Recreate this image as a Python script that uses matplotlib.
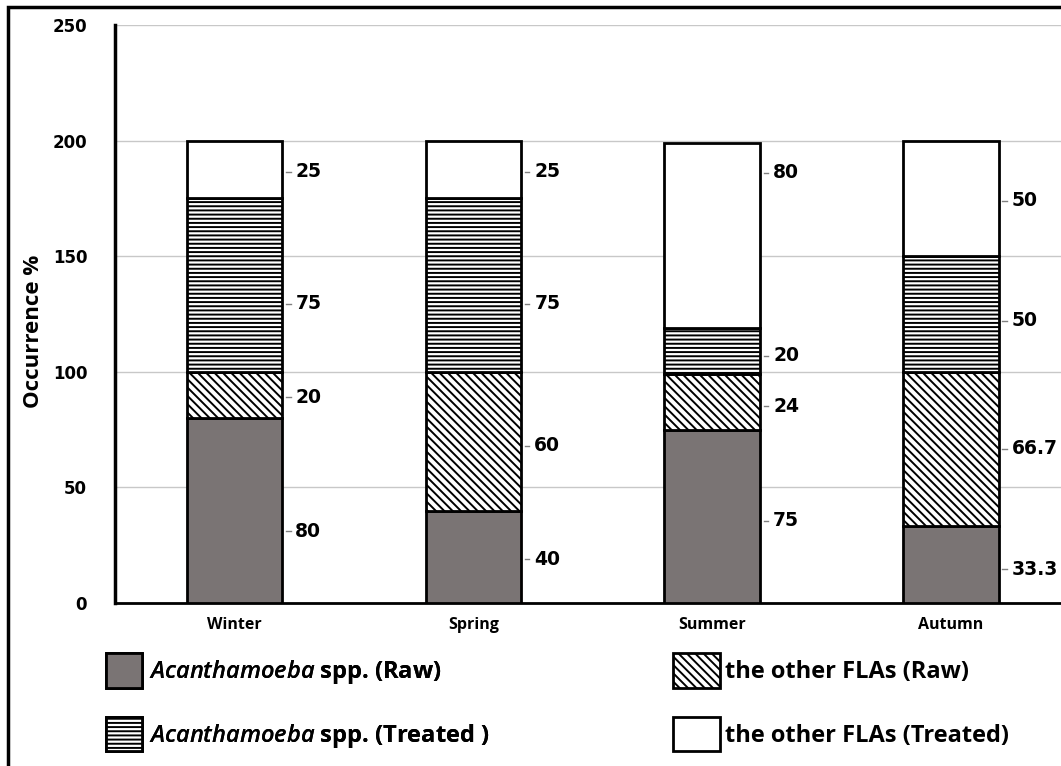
import numpy as np
import matplotlib
matplotlib.use('Agg')
import matplotlib.pyplot as plt
from matplotlib.patches import Rectangle

seasons = ['Winter', 'Spring', 'Summer', 'Autumn']
acan_raw = [80, 40, 75, 33.3]
other_raw = [20, 60, 24, 66.7]
acan_treated = [75, 75, 20, 50]
other_treated = [25, 25, 80, 50]
label_txt = [['80', '20', '75', '25'],
             ['40', '60', '75', '25'],
             ['75', '24', '20', '80'],
             ['33.3', '66.7', '50', '50']]
# label nudges off the segment middle (data units), as in the original
label_shift = [[-9, -1, -8, -1],
               [-1, -2, -8, -1],
               [-2, -2, -2, 27],
               [-2, 0, -3, -1]]

plt.rcParams['hatch.linewidth'] = 1.4
plt.rcParams['mathtext.fontset'] = 'custom'
plt.rcParams['mathtext.it'] = 'Open Sans:italic:semibold'

fig = plt.figure(figsize=(10.61, 7.66), dpi=100)
ax = fig.add_axes([115/1061, 1-603/766, 1-115/1061, (603-25)/766])

x = np.arange(len(seasons))
w = 0.4
gray = '#7a7474'
series = [acan_raw, other_raw, acan_treated, other_treated]
styles = [dict(color=gray, hatch=None), dict(color='white', hatch='\\\\\\\\'),
          dict(color='white', hatch='----'), dict(color='white', hatch=None)]
names = ['$Acanthamoeba$ spp. (Raw)', 'the other FLAs (Raw)',
         '$Acanthamoeba$ spp. (Treated )', 'the other FLAs (Treated)']
handles = []
bottom = np.zeros(len(seasons))
for k, (vals, st) in enumerate(zip(series, styles)):
    vals = np.array(vals)
    b = ax.bar(x, vals, w, bottom=bottom, color=st['color'], hatch=st['hatch'],
               edgecolor='black', linewidth=2, zorder=3, label=names[k])
    handles.append(b)
    for i in range(len(seasons)):
        ymid = bottom[i] + vals[i]/2 + label_shift[i][k]
        xr = x[i] + w/2
        ax.plot([xr+0.015, xr+0.035], [ymid, ymid], color='gray', lw=1, zorder=2)
        ax.text(xr+0.055, ymid, label_txt[i][k], ha='left', va='center',
                fontsize=13.5, fontweight='bold', family='DejaVu Sans')
    bottom = bottom + vals

ax.set_xlim(-0.5, 3.46)
ax.set_ylim(0, 250)
ax.set_yticks([0, 50, 100, 150, 200, 250])
ax.yaxis.grid(True, color='#c8c8c8', lw=1, zorder=0)
ax.set_axisbelow(True)
for s in ['top', 'right']:
    ax.spines[s].set_visible(False)
ax.spines['left'].set_linewidth(2.5)
ax.spines['bottom'].set_linewidth(2)
ax.tick_params(axis='both', length=0)
ax.tick_params(axis='y', pad=20, labelsize=12)
ax.tick_params(axis='x', pad=10, labelsize=11.5)
for t in ax.get_yticklabels():
    t.set_fontweight('bold')
    t.set_family('DejaVu Sans')
ax.set_xticks(x)
ax.set_xticklabels(seasons, fontweight='bold', family='Open Sans')
ax.set_ylabel('Occurrence %', fontsize=16, fontweight='bold', family='Open Sans')
ax.yaxis.set_label_coords(-0.075, 0.47)

prop = {'family': 'Open Sans', 'weight': 'bold', 'size': 17}
leg1 = fig.legend(handles=[handles[0], handles[2]], loc='upper left',
                  bbox_to_anchor=(85/1061, 1-632/766), frameon=False,
                  handlelength=1.5, handleheight=1.9, handletextpad=0.3,
                  labelspacing=1.2, prop=prop)
leg2 = fig.legend(handles=[handles[1], handles[3]], loc='upper left',
                  bbox_to_anchor=(652/1061, 1-632/766), frameon=False,
                  handlelength=2.0, handleheight=1.9, handletextpad=0.2,
                  labelspacing=1.2, prop=prop)
fig.add_artist(leg1)

fig.patches.append(Rectangle((8/1061, -0.05), 1.1, 1-7/766+0.05, transform=fig.transFigure,
                             fill=False, edgecolor='black', lw=2.5))

fig.savefig('out.png', dpi=100)
